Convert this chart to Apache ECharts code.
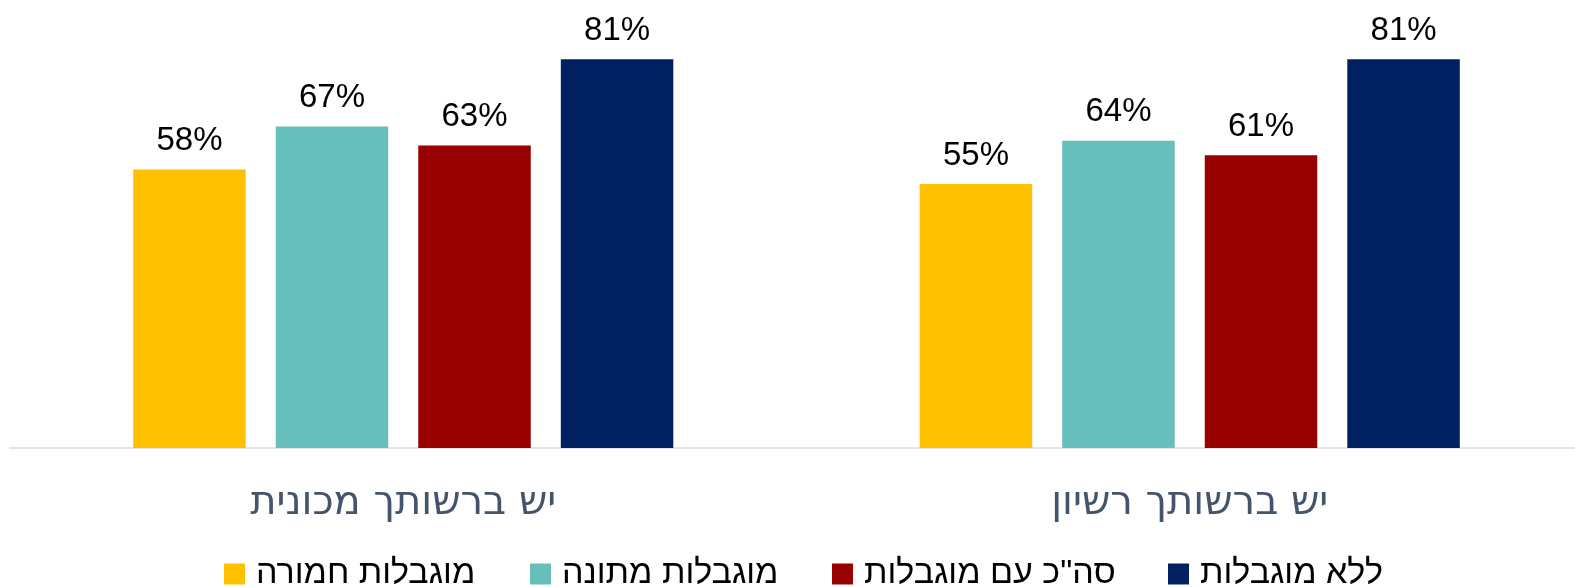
<!DOCTYPE html>
<html>
<head>
<meta charset="utf-8">
<script src="https://cdn.jsdelivr.net/npm/echarts@6/dist/echarts.min.js"></script>
<style>
  html, body { margin: 0; padding: 0; background: #ffffff; }
  #chart { width: 1575px; height: 587px; }
</style>
</head>
<body>
<div id="chart"></div>
<script>
// Categories on the x axis
const categories = ['יש ברשותך מכונית', 'יש ברשותך רשיון'];

// Series names (legend order)
const seriesNames = ['מוגבלות חמורה', 'מוגבלות מתונה', 'סה"כ עם מוגבלות', 'ללא מוגבלות'];

// Percent values per series, one per category
const severeValues = [58, 55];
const moderateValues = [67, 64];
const totalDisabledValues = [63, 61];
const noDisabilityValues = [81, 81];

const seriesValues = [severeValues, moderateValues, totalDisabledValues, noDisabilityValues];
const seriesColors = ['#FFC000', '#66BFBA', '#990000', '#002060'];
const legendLefts = [224, 530, 832, 1168];

const fontFamily = '"Liberation Sans", "DejaVu Sans", Arial, sans-serif';
const categoryFont = '"DejaVu Sans", "Liberation Sans", sans-serif';

const chart = echarts.init(document.getElementById('chart'), null, { renderer: 'canvas' });

chart.setOption({
  animation: false,
  backgroundColor: '#ffffff',
  textStyle: { fontFamily: fontFamily },
  grid: {
    left: 10, width: 1573, top: 16, bottom: 139,
    containLabel: false,
    outerBoundsMode: 'none'
  },
  legend: seriesNames.map((name, i) => ({
    data: [name],
    left: legendLefts[i],
    top: 557,
    padding: 0,
    orient: 'horizontal',
    itemWidth: 21,
    itemHeight: 21,
    itemGap: 0,
    icon: 'rect',
    selectedMode: false,
    textStyle: { fontSize: 34, color: '#000000', fontFamily: fontFamily, padding: [0, 0, 0, 6] }
  })),
  xAxis: {
    type: 'category',
    data: categories,
    axisLine: { show: true, lineStyle: { color: '#D9DDE2', width: 1.5 } },
    axisTick: { show: false },
    axisLabel: { fontSize: 40, color: '#44546A', margin: 36, fontFamily: categoryFont }
  },
  yAxis: {
    type: 'value',
    min: 0,
    max: 90,
    show: false,
    splitLine: { show: false }
  },
  series: seriesNames.map((name, i) => ({
    name: name,
    type: 'bar',
    data: seriesValues[i],
    barWidth: 112.5,
    barGap: '26.7%',
    itemStyle: { color: seriesColors[i] },
    label: {
      show: true,
      position: 'top',
      distance: 12,
      formatter: '{c}%',
      fontSize: 33,
      color: '#000000',
      fontFamily: fontFamily
    }
  }))
});
</script>
</body>
</html>
